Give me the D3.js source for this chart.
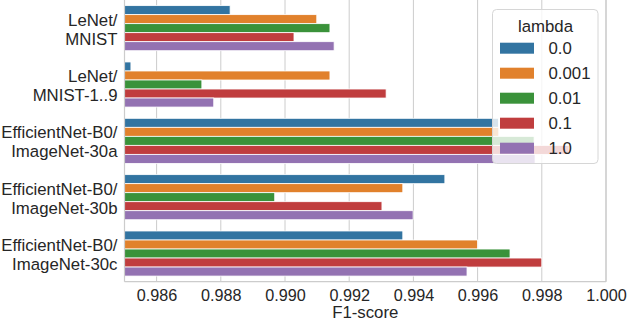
<!DOCTYPE html>
<html>
<head>
<meta charset="utf-8">
<script src="https://cdn.jsdelivr.net/npm/d3@7"></script>
<style>
  body { margin: 0; background: #fff; }
  svg text { font-family: "Liberation Sans", Arial, sans-serif; fill: #262626; }
</style>
</head>
<body>
<div id="chart"></div>
<script>
// models / datasets on the y axis (each label is two lines)
var categories = [
  ["LeNet/", "MNIST"],
  ["LeNet/", "MNIST-1..9"],
  ["EfficientNet-B0/", "ImageNet-30a"],
  ["EfficientNet-B0/", "ImageNet-30b"],
  ["EfficientNet-B0/", "ImageNet-30c"]
];
var lambdas = ["0.0", "0.001", "0.01", "0.1", "1.0"];
var colors = ["#3274a1", "#e1812c", "#3a923a", "#c03d3e", "#9372b2"];

// F1-score per lambda, in category order
var f1_l0    = [0.98829, 0.98520, 0.99665, 0.99498, 0.99367];
var f1_l001  = [0.99099, 0.99140, 0.99666, 0.99367, 0.99600];
var f1_l01   = [0.99140, 0.98741, 0.99776, 0.98968, 0.99701];
var f1_l1    = [0.99028, 0.99315, 0.99885, 0.99302, 0.99800];
var f1_l10   = [0.99153, 0.98778, 0.99779, 0.99399, 0.99567];
var series = [f1_l0, f1_l001, f1_l01, f1_l1, f1_l10];

var xTicks = [0.986, 0.988, 0.990, 0.992, 0.994, 0.996, 0.998, 1.000];
var xDomain = [0.985, 1.000];

var width = 628, height = 322;
var margin = { left: 124.5, right: 22, top: 0, bottom: 40.3 };
var labelSize = "16.8px", tickSize = "16.2px";

var svg = d3.select("#chart").append("svg")
  .attr("width", width)
  .attr("height", height);

var x = d3.scaleLinear()
  .domain(xDomain)
  .range([margin.left, width - margin.right]);

var y = d3.scaleBand()
  .domain(d3.range(categories.length))
  .range([margin.top, height - margin.bottom])
  .paddingInner(0.2)
  .paddingOuter(0.1);

var yHue = d3.scaleBand()
  .domain(d3.range(lambdas.length))
  .range([0, y.bandwidth()]);

// grid
svg.append("g")
  .attr("class", "grid")
  .selectAll("line")
  .data(xTicks)
  .enter()
  .append("line")
  .attr("x1", function (d) { return x(d); })
  .attr("x2", function (d) { return x(d); })
  .attr("y1", margin.top)
  .attr("y2", height - margin.bottom)
  .style("stroke", "#cccccc")
  .style("stroke-width", 1);

// bars
var rows = [];
series.forEach(function (vals, h) {
  vals.forEach(function (v, c) { rows.push({ cat: c, hue: h, value: v }); });
});

svg.append("g")
  .attr("class", "bars")
  .selectAll("rect")
  .data(rows)
  .enter()
  .append("rect")
  .attr("x", x(xDomain[0]))
  .attr("y", function (d) { return y(d.cat) + yHue(d.hue); })
  .attr("width", function (d) { return x(d.value) - x(xDomain[0]); })
  .attr("height", yHue.bandwidth())
  .style("fill", function (d) { return colors[d.hue]; })
  .style("stroke", "#ffffff")
  .style("stroke-width", 0.8);

// spines
svg.append("line")
  .attr("x1", x(xDomain[0])).attr("x2", x(xDomain[0]))
  .attr("y1", margin.top).attr("y2", height - margin.bottom)
  .style("stroke", "#cccccc").style("stroke-width", 1.2);
svg.append("line")
  .attr("x1", x(xDomain[0])).attr("x2", x(xDomain[1]))
  .attr("y1", height - margin.bottom).attr("y2", height - margin.bottom)
  .style("stroke", "#cccccc").style("stroke-width", 1.2);
svg.append("line")
  .attr("x1", x(xDomain[1])).attr("x2", x(xDomain[1]))
  .attr("y1", margin.top).attr("y2", height - margin.bottom)
  .style("stroke", "#cccccc").style("stroke-width", 1.2);

// x axis tick labels
var xAxis = d3.axisBottom(x)
  .tickValues(xTicks)
  .tickFormat(d3.format(".3f"))
  .tickSize(0)
  .tickPadding(8);
var gx = svg.append("g")
  .attr("transform", "translate(0," + (height - margin.bottom) + ")")
  .call(xAxis);
gx.select(".domain").remove();
gx.selectAll("text")
  .style("font-size", tickSize)
  .style("font-family", "Liberation Sans, Arial, sans-serif")
  .attr("fill", "#262626");

svg.append("text")
  .attr("x", (x(xDomain[0]) + x(xDomain[1])) / 2)
  .attr("y", 317.5)
  .attr("text-anchor", "middle")
  .style("font-size", labelSize)
  .text("F1-score");

// y labels
var ylab = svg.append("g")
  .attr("class", "ylabels")
  .selectAll("text")
  .data(categories)
  .enter()
  .append("text")
  .attr("text-anchor", "end")
  .style("font-size", labelSize);
ylab.append("tspan")
  .attr("x", 117.5)
  .attr("y", function (d, i) { return y(i) + y.bandwidth() / 2 - 2.5; })
  .text(function (d) { return d[0]; });
ylab.append("tspan")
  .attr("x", 117.5)
  .attr("y", function (d, i) { return y(i) + y.bandwidth() / 2 + 16.5; })
  .text(function (d) { return d[1]; });

// legend
var lg = svg.append("g").attr("class", "legend");
lg.append("rect")
  .attr("x", 492.5).attr("y", 9.5)
  .attr("width", 105.5).attr("height", 154)
  .attr("rx", 4).attr("ry", 4)
  .style("fill", "#ffffff").style("fill-opacity", 0.8)
  .style("stroke", "#d6d6d6").style("stroke-width", 1);
lg.append("text")
  .attr("x", 545.5).attr("y", 31.5)
  .attr("text-anchor", "middle")
  .style("font-size", labelSize)
  .text("lambda");
var items = lg.selectAll("g.item")
  .data(lambdas)
  .enter()
  .append("g")
  .attr("class", "item")
  .attr("transform", function (d, i) { return "translate(0," + (42.7 + i * 25) + ")"; });
items.append("rect")
  .attr("x", 500).attr("y", 0)
  .attr("width", 34).attr("height", 11)
  .style("fill", function (d, i) { return colors[i]; });
items.append("text")
  .attr("x", 548.5).attr("y", 11)
  .style("font-size", labelSize)
  .text(function (d) { return d; });
</script>
</body>
</html>
